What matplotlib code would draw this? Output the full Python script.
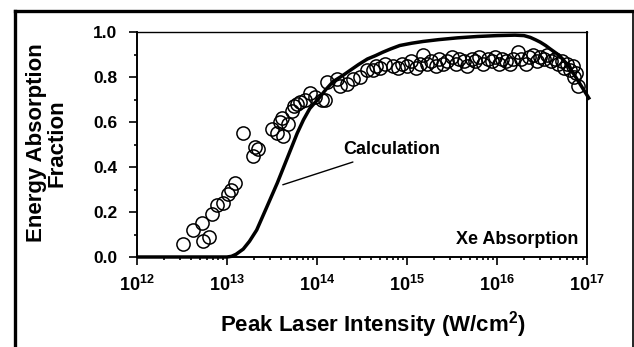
import numpy as np
import matplotlib
matplotlib.use("Agg")
import matplotlib.pyplot as plt
from matplotlib.lines import Line2D
from matplotlib.ticker import FixedLocator, LogLocator, NullFormatter

plt.rcParams['font.family'] = 'Liberation Sans'
plt.rcParams['font.weight'] = 'bold'
plt.rcParams['mathtext.fontset'] = 'custom'
plt.rcParams['mathtext.rm'] = 'Liberation Sans:bold'
plt.rcParams['mathtext.bf'] = 'Liberation Sans:bold'
plt.rcParams['mathtext.it'] = 'Liberation Sans:bold'

# calculated absorption curve (log10 intensity, fraction)
calc_logI = [12.0, 12.5, 13.0, 13.05, 13.10, 13.18, 13.25, 13.33, 13.44, 13.56,
             13.67, 13.78, 13.85, 13.92, 14.03, 14.10, 14.18, 14.28, 14.37, 14.46,
             14.56, 14.65, 14.73, 14.82, 14.92, 15.05, 15.18, 15.35, 15.56, 15.78,
             16.00, 16.20, 16.30, 16.37, 16.43, 16.48, 16.54, 16.59, 16.66, 16.73,
             16.81, 16.89, 16.96, 17.03]
calc_frac = [0.0, 0.0, 0.0, 0.003, 0.012, 0.035, 0.07, 0.12, 0.22, 0.33,
             0.44, 0.55, 0.61, 0.66, 0.71, 0.745, 0.78, 0.805, 0.83, 0.855,
             0.88, 0.895, 0.91, 0.925, 0.94, 0.95, 0.958, 0.966, 0.974, 0.98,
             0.984, 0.986, 0.984, 0.976, 0.965, 0.955, 0.94, 0.925, 0.905, 0.88,
             0.84, 0.79, 0.745, 0.70]

# measured Xe absorption (log10 intensity, fraction)
meas_logI = [12.51, 12.62, 12.72, 12.73, 12.80, 12.83, 12.89, 12.96, 13.01, 13.04,
             13.09, 13.18, 13.29, 13.31, 13.35, 13.50, 13.56, 13.59, 13.61, 13.62,
             13.68, 13.72, 13.74, 13.78, 13.81, 13.87, 13.92, 13.98, 14.06, 14.09,
             14.11, 14.22, 14.26, 14.33, 14.40, 14.48, 14.56, 14.62, 14.66, 14.70,
             14.76, 14.84, 14.90, 14.95, 15.00, 15.05, 15.10, 15.14, 15.18, 15.22,
             15.27, 15.32, 15.36, 15.40, 15.45, 15.50, 15.54, 15.58, 15.63, 15.67,
             15.72, 15.76, 15.80, 15.85, 15.90, 15.94, 15.98, 16.02, 16.06, 16.10,
             16.14, 16.18, 16.23, 16.27, 16.32, 16.36, 16.40, 16.44, 16.48, 16.52,
             16.56, 16.60, 16.64, 16.68, 16.72, 16.75, 16.78, 16.81, 16.84, 16.86,
             16.88, 16.90]
meas_frac = [0.06, 0.12, 0.15, 0.07, 0.09, 0.19, 0.23, 0.24, 0.28, 0.30,
             0.33, 0.55, 0.45, 0.49, 0.48, 0.57, 0.55, 0.60, 0.62, 0.54,
             0.59, 0.65, 0.67, 0.68, 0.69, 0.70, 0.73, 0.71, 0.70, 0.70,
             0.78, 0.79, 0.76, 0.77, 0.79, 0.80, 0.83, 0.83, 0.85, 0.84,
             0.86, 0.85, 0.84, 0.86, 0.85, 0.87, 0.84, 0.86, 0.90, 0.86,
             0.87, 0.85, 0.88, 0.86, 0.87, 0.89, 0.86, 0.88, 0.87, 0.85,
             0.88, 0.87, 0.89, 0.86, 0.88, 0.87, 0.89, 0.86, 0.88, 0.87,
             0.86, 0.88, 0.91, 0.88, 0.86, 0.89, 0.90, 0.87, 0.89, 0.88,
             0.90, 0.87, 0.88, 0.86, 0.87, 0.84, 0.86, 0.83, 0.85, 0.80,
             0.82, 0.76]

xticks = [1e12, 1e13, 1e14, 1e15, 1e16, 1e17]
xtick_labels = ['$10^{12}$', '$10^{13}$', '$10^{14}$', '$10^{15}$', '$10^{16}$', '$10^{17}$']
yticks = [0.0, 0.2, 0.4, 0.6, 0.8, 1.0]

fig = plt.figure(figsize=(6.34, 3.47), dpi=100)
ax = fig.add_axes([137/634, 1 - 257/347, 450/634, 225/347])

ax.plot(10**np.array(calc_logI), calc_frac, color='black', lw=2.5, clip_on=False,
        solid_capstyle='butt', solid_joinstyle='round', zorder=3)
ax.plot(10**np.array(meas_logI), meas_frac, linestyle='none', marker='o', ms=9.5,
        mfc='none', mec='black', mew=1.1, zorder=2)

ax.set_xscale('log')
ax.set_xlim(1e12, 1e17)
ax.set_ylim(0, 1.0)
ax.set_xticks(xticks)
ax.set_xticklabels(xtick_labels, fontsize=13)
ax.xaxis.set_minor_locator(LogLocator(base=10, subs=np.arange(2, 10)))
ax.xaxis.set_minor_formatter(NullFormatter())
ax.set_yticks(yticks)
ax.set_yticklabels(['%.1f' % v for v in yticks], fontsize=12.5)
ax.yaxis.set_minor_locator(FixedLocator([0.1, 0.3, 0.5, 0.7, 0.9]))

ax.tick_params(axis='both', which='major', direction='out', length=6, width=1.2, pad=8)
ax.tick_params(axis='both', which='minor', direction='out', length=2, width=1.2)
ax.tick_params(axis='x', which='major', pad=7)

for s in ['left', 'bottom', 'right']:
    ax.spines[s].set_linewidth(1.4)
ax.spines['top'].set_linewidth(1.0)

fig.text(373/634, 1 - 325/347, 'Peak Laser Intensity (W/cm$^{2}$)', fontsize=16,
         fontweight='bold', ha='center', va='center')
fig.text(47/634, 1 - 143/347, 'Energy Absorption\nFraction', fontsize=16,
         fontweight='bold', rotation=90, ha='center', va='center',
         multialignment='center', linespacing=1.0)

ax.annotate('Calculation', xy=(10**13.62, 0.321), xytext=(10**14.29, 0.478),
            fontsize=13, fontweight='bold', va='center', ha='left',
            arrowprops=dict(arrowstyle='-', color='black', lw=1.0,
                            shrinkA=3, shrinkB=0))
ax.text(10**16.9, 0.076, 'Xe Absorption', fontsize=13, fontweight='bold',
        ha='right', va='center')

# outer frame (open at the bottom)
frame_kw = dict(transform=fig.transFigure, color='black', solid_capstyle='projecting')
fig.add_artist(Line2D([14.5/634, 14.5/634], [0, 1 - 10.5/347], lw=2.4, **frame_kw))
fig.add_artist(Line2D([14.5/634, 632.5/634], [1 - 10.5/347, 1 - 10.5/347], lw=2.4, **frame_kw))
fig.add_artist(Line2D([632.5/634, 632.5/634], [0, 1 - 10.5/347], lw=1.2, **frame_kw))

fig.savefig('out.png', dpi=100)
